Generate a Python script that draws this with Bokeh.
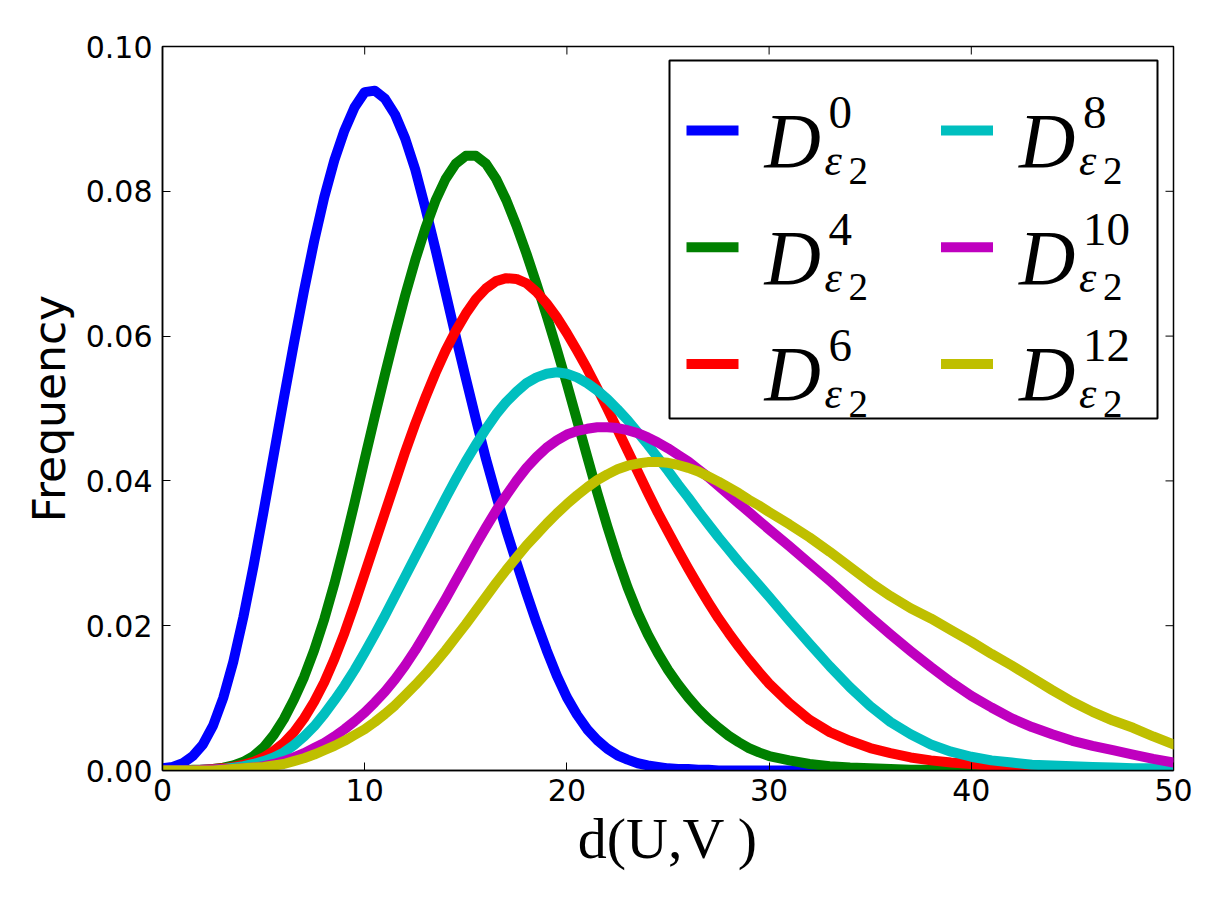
from bokeh.plotting import figure
from bokeh.models import Range1d, FixedTicker, NumeralTickFormatter, Label, BoxAnnotation
from bokeh.embed import file_html
from bokeh.resources import INLINE

# ---- data: frequency of the distance d(U,V) for each order ----
# sampled every 0.5 up to 30, then every 1 up to 50
distance = [i * 0.5 for i in range(61)] + list(range(31, 51))

freq_0 = [0.0003, 0.0005, 0.0010, 0.0020, 0.0036, 0.0062, 0.0100, 0.0150, 0.0212, 0.0282,
          0.0358, 0.0436, 0.0514, 0.0590, 0.0663, 0.0731, 0.0792, 0.0843, 0.0884, 0.0916,
          0.0937, 0.0939, 0.0928, 0.0906, 0.0873, 0.0830, 0.0777, 0.0720, 0.0660, 0.0600,
          0.0542, 0.0485, 0.0430, 0.0380, 0.0332, 0.0288, 0.0245, 0.0204, 0.0166, 0.0131,
          0.0101, 0.0077, 0.0057, 0.0042, 0.0030, 0.0021, 0.0015, 0.0010, 0.0007, 0.0005,
          0.0003, 0.0002, 0.0002, 0.0001, 0.0001, 0.0, 0.0, 0.0, 0.0, 0.0,
          0.0,
          0.0, 0.0, 0.0, 0.0, 0.0, 0.0, 0.0, 0.0, 0.0, 0.0,
          0.0, 0.0, 0.0, 0.0, 0.0, 0.0, 0.0, 0.0, 0.0, 0.0]

freq_4 = [0.0, 0.0, 0.0, 0.0001, 0.0001, 0.0002, 0.0004, 0.0007, 0.0012, 0.0020,
          0.0032, 0.0049, 0.0071, 0.0098, 0.0129, 0.0166, 0.0209, 0.0258, 0.0312, 0.0370,
          0.0430, 0.0489, 0.0547, 0.0603, 0.0656, 0.0705, 0.0749, 0.0787, 0.0817, 0.0838,
          0.0849, 0.0849, 0.0838, 0.0817, 0.0788, 0.0753, 0.0714, 0.0672, 0.0628, 0.0582,
          0.0534, 0.0484, 0.0434, 0.0384, 0.0337, 0.0293, 0.0253, 0.0218, 0.0188, 0.0162,
          0.0139, 0.0119, 0.0101, 0.0085, 0.0071, 0.0059, 0.0048, 0.0039, 0.0031, 0.0025,
          0.0020,
          0.0014, 0.0009, 0.0006, 0.0004, 0.0003, 0.0002, 0.0001, 0.0001, 0.0, 0.0,
          0.0, 0.0, 0.0, 0.0, 0.0, 0.0, 0.0, 0.0, 0.0, 0.0]

freq_6 = [0.0, 0.0, 0.0, 0.0, 0.0001, 0.0002, 0.0003, 0.0005, 0.0008, 0.0012,
          0.0018, 0.0027, 0.0038, 0.0053, 0.0072, 0.0095, 0.0122, 0.0154, 0.0190, 0.0230,
          0.0272, 0.0314, 0.0356, 0.0398, 0.0440, 0.0479, 0.0515, 0.0549, 0.0580, 0.0607,
          0.0631, 0.0651, 0.0666, 0.0676, 0.0680, 0.0679, 0.0673, 0.0661, 0.0645, 0.0626,
          0.0604, 0.0580, 0.0555, 0.0528, 0.0500, 0.0471, 0.0442, 0.0413, 0.0384, 0.0356,
          0.0330, 0.0304, 0.0279, 0.0255, 0.0232, 0.0210, 0.0190, 0.0171, 0.0153, 0.0136,
          0.0120,
          0.0093, 0.0070, 0.0053, 0.0041, 0.0031, 0.0024, 0.0018, 0.0014, 0.0011, 0.0009,
          0.0007, 0.0005, 0.0004, 0.0003, 0.0002, 0.0002, 0.0001, 0.0001, 0.0001, 0.0]

freq_8 = [0.0, 0.0, 0.0, 0.0, 0.0001, 0.0001, 0.0002, 0.0004, 0.0006, 0.0009,
          0.0013, 0.0018, 0.0025, 0.0035, 0.0047, 0.0061, 0.0078, 0.0097, 0.0117, 0.0139,
          0.0163, 0.0188, 0.0214, 0.0241, 0.0268, 0.0295, 0.0322, 0.0349, 0.0376, 0.0402,
          0.0427, 0.0450, 0.0472, 0.0492, 0.0509, 0.0523, 0.0535, 0.0543, 0.0548, 0.0550,
          0.0548, 0.0543, 0.0535, 0.0525, 0.0513, 0.0499, 0.0484, 0.0467, 0.0450, 0.0432,
          0.0414, 0.0395, 0.0377, 0.0358, 0.0340, 0.0322, 0.0305, 0.0288, 0.0272, 0.0256,
          0.0240,
          0.0207, 0.0175, 0.0144, 0.0115, 0.0089, 0.0067, 0.0050, 0.0036, 0.0026, 0.0019,
          0.0014, 0.0011, 0.0008, 0.0007, 0.0006, 0.0005, 0.0004, 0.0003, 0.0003, 0.0002]

freq_10 = [0.0, 0.0, 0.0, 0.0, 0.0001, 0.0001, 0.0002, 0.0002, 0.0003, 0.0004,
           0.0006, 0.0009, 0.0013, 0.0018, 0.0024, 0.0031, 0.0038, 0.0047, 0.0057, 0.0068,
           0.0080, 0.0094, 0.0109, 0.0126, 0.0145, 0.0166, 0.0189, 0.0213, 0.0237, 0.0262,
           0.0287, 0.0312, 0.0336, 0.0359, 0.0380, 0.0400, 0.0418, 0.0433, 0.0446, 0.0456,
           0.0464, 0.0469, 0.0472, 0.0474, 0.0474, 0.0473, 0.0470, 0.0466, 0.0460, 0.0453,
           0.0445, 0.0436, 0.0427, 0.0416, 0.0405, 0.0393, 0.0381, 0.0369, 0.0357, 0.0345,
           0.0333,
           0.0310, 0.0286, 0.0262, 0.0237, 0.0212, 0.0188, 0.0165, 0.0143, 0.0122, 0.0103,
           0.0087, 0.0072, 0.0060, 0.0050, 0.0041, 0.0034, 0.0028, 0.0022, 0.0016, 0.0011]

freq_12 = [0.0, 0.0, 0.0, 0.0, 0.0, 0.0, 0.0001, 0.0002, 0.0003, 0.0004,
           0.0005, 0.0007, 0.0009, 0.0013, 0.0017, 0.0022, 0.0028, 0.0034, 0.0041, 0.0049,
           0.0057, 0.0067, 0.0078, 0.0090, 0.0104, 0.0118, 0.0133, 0.0149, 0.0166, 0.0184,
           0.0202, 0.0221, 0.0240, 0.0259, 0.0277, 0.0294, 0.0311, 0.0326, 0.0341, 0.0355,
           0.0368, 0.0380, 0.0391, 0.0401, 0.0409, 0.0416, 0.0421, 0.0424, 0.0426, 0.0426,
           0.0425, 0.0422, 0.0418, 0.0413, 0.0406, 0.0399, 0.0391, 0.0383, 0.0374, 0.0366,
           0.0357,
           0.0340, 0.0322, 0.0302, 0.0281, 0.0260, 0.0241, 0.0224, 0.0210, 0.0194, 0.0178,
           0.0161, 0.0145, 0.0128, 0.0111, 0.0095, 0.0081, 0.0069, 0.0059, 0.0047, 0.0036]

orders = ["0", "4", "6", "8", "10", "12"]
series = [freq_0, freq_4, freq_6, freq_8, freq_10, freq_12]
colors = ["#0000ff", "#008000", "#ff0000", "#00bfbf", "#bf00bf", "#bfbf00"]

x_ticks = [0, 10, 20, 30, 40, 50]
y_ticks = [0.0, 0.02, 0.04, 0.06, 0.08, 0.10]

# ---- layout ----
W, H = 1219, 919
LEFT, RIGHT, TOP, BOTTOM = 162, 46, 46, 149
FW, FH = W - LEFT - RIGHT, H - TOP - BOTTOM
X0, X1 = 0, 50
Y0, Y1 = 0.0, 0.10
TICK_LEN = 8


def dx(px):
    """canvas pixel column -> data x"""
    return X0 + (px - LEFT) / FW * (X1 - X0)


def dy(py):
    """canvas pixel row -> data y"""
    return Y0 + (TOP + FH - py) / FH * (Y1 - Y0)


p = figure(width=W, height=H, output_backend="svg", toolbar_location=None,
           x_range=Range1d(X0, X1), y_range=Range1d(Y0, Y1),
           min_border_left=LEFT, min_border_right=RIGHT,
           min_border_top=TOP, min_border_bottom=BOTTOM)
p.background_fill_color = "white"
p.border_fill_color = "white"
p.grid.visible = False
p.outline_line_color = "black"
p.outline_line_width = 1.5

SANS = "DejaVu Sans"
SERIF = "Liberation Serif"

for ax in (p.xaxis[0], p.yaxis[0]):
    ax.axis_line_color = "black"
    ax.axis_line_width = 1.5
    ax.major_tick_in = TICK_LEN
    ax.major_tick_out = 0
    ax.major_tick_line_color = "black"
    ax.major_tick_line_width = 1
    ax.minor_tick_line_color = None
    ax.major_label_text_font = SANS
    ax.major_label_text_font_size = "30px"
    ax.major_label_text_color = "black"

p.xaxis[0].ticker = FixedTicker(ticks=x_ticks)
p.xaxis[0].formatter = NumeralTickFormatter(format="0")
p.xaxis[0].major_label_standoff = 8
p.xaxis[0].axis_label = "d(U,V )"
p.xaxis[0].axis_label_text_font = SERIF
p.xaxis[0].axis_label_text_font_size = "58px"
p.xaxis[0].axis_label_text_font_style = "normal"
p.xaxis[0].axis_label_text_color = "black"
p.xaxis[0].axis_label_standoff = 2

p.yaxis[0].ticker = FixedTicker(ticks=y_ticks)
p.yaxis[0].formatter = NumeralTickFormatter(format="0.00")
p.yaxis[0].major_label_standoff = 10
p.yaxis[0].axis_label = "Frequency"
p.yaxis[0].axis_label_text_font = SANS
p.yaxis[0].axis_label_text_font_size = "44px"
p.yaxis[0].axis_label_text_font_style = "normal"
p.yaxis[0].axis_label_text_color = "black"
p.yaxis[0].axis_label_standoff = 8

# mirrored inward ticks along the top and right edges
top_len = TICK_LEN / FH * (Y1 - Y0)
right_len = TICK_LEN / FW * (X1 - X0)
p.segment(x0=x_ticks, y0=[Y1] * len(x_ticks), x1=x_ticks, y1=[Y1 - top_len] * len(x_ticks),
          line_color="black", line_width=1)
p.segment(x0=[X1] * len(y_ticks), y0=y_ticks, x1=[X1 - right_len] * len(y_ticks), y1=y_ticks,
          line_color="black", line_width=1)

# ---- curves ----
for ys, c in zip(series, colors):
    p.line(distance, ys, line_color=c, line_width=10, line_join="round", line_cap="round")

# ---- legend (two columns, three rows) ----
p.add_layout(BoxAnnotation(left=dx(669), right=dx(1157), top=dy(60), bottom=dy(418),
                           fill_color="white", fill_alpha=1.0,
                           line_color="black", line_width=2, line_alpha=1.0))

ROW_STEP = 116.7
COL_STEP = 254.5
for i, (order, c) in enumerate(zip(orders, colors)):
    col, row = divmod(i, 3)
    ox, oy = col * COL_STEP, row * ROW_STEP
    # swatch
    p.add_layout(BoxAnnotation(left=dx(686 + ox), right=dx(738 + ox),
                               top=dy(125 + oy), bottom=dy(135 + oy),
                               fill_color=c, fill_alpha=1.0, line_color=None))
    # D^{order}_{eps_2}
    p.add_layout(Label(x=dx(764 + ox), y=dy(140 + oy), text="D",
                       text_font=SERIF, text_font_style="italic", text_font_size="78px",
                       text_color="black", text_baseline="alphabetic", text_align="left"))
    p.add_layout(Label(x=dx(828 + ox), y=dy(112 + oy), text=order,
                       text_font=SERIF, text_font_size="47px",
                       text_color="black", text_baseline="alphabetic", text_align="left"))
    p.add_layout(Label(x=dx(824 + ox), y=dy(160 + oy), text="\u03b5",
                       text_font=SERIF, text_font_style="italic", text_font_size="44px",
                       text_color="black", text_baseline="alphabetic", text_align="left"))
    p.add_layout(Label(x=dx(848 + ox), y=dy(170 + oy), text="2",
                       text_font=SERIF, text_font_size="39px",
                       text_color="black", text_baseline="alphabetic", text_align="left"))

open("out.html", "w").write(file_html(p, INLINE))
